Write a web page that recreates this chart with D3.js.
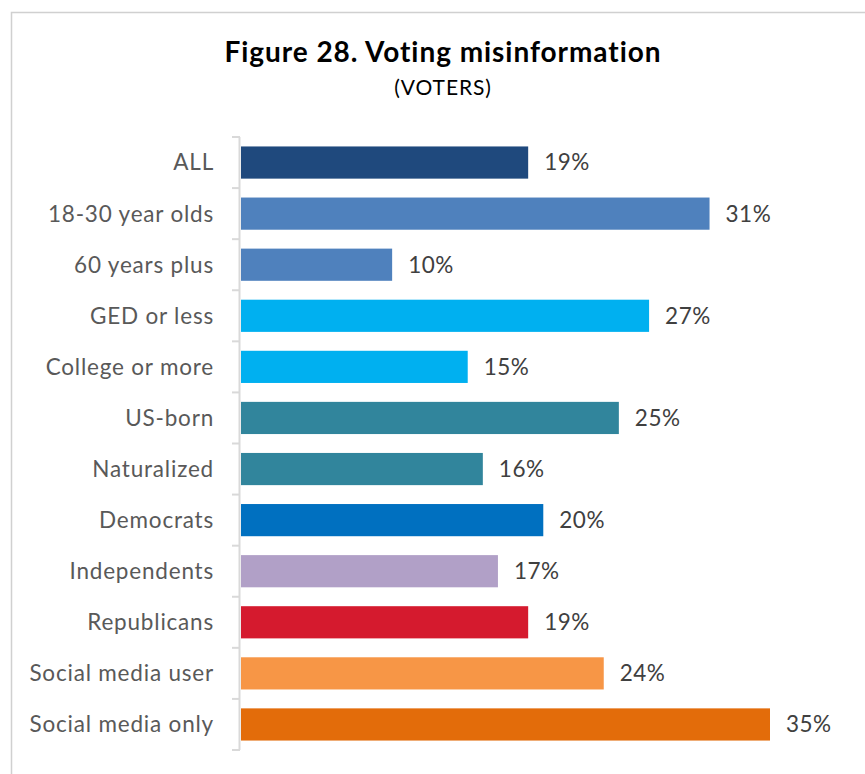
<!DOCTYPE html>
<html>
<head>
<meta charset="utf-8">
<script src="https://cdn.jsdelivr.net/npm/d3@7"></script>
<style>
  html, body { margin: 0; padding: 0; background: #fff; }
  svg { display: block; }
</style>
</head>
<body>
<svg id="chart" width="865" height="774"></svg>
<script>
// Survey groups, share reporting voting misinformation (%)
const categories = [
  "ALL", "18-30 year olds", "60 years plus", "GED or less", "College or more",
  "US-born", "Naturalized", "Democrats", "Independents", "Republicans",
  "Social media user", "Social media only"
];
const values = [19, 31, 10, 27, 15, 25, 16, 20, 17, 19, 24, 35];
const barColors = [
  "#1f497d", "#4f81bd", "#4f81bd", "#00b0f0", "#00b0f0",
  "#31859c", "#31859c", "#0070c0", "#b1a0c7", "#d51a2e",
  "#f79646", "#e36c0a"
];
const titleText = "Figure 28. Voting misinformation";
const subtitleText = "(VOTERS)";

const svg = d3.select("#chart");
const font = "Lato, 'Open Sans', sans-serif";

// outer frame
svg.append("rect")
  .attr("x", 11.5).attr("y", 12.5)
  .attr("width", 900).attr("height", 800)
  .attr("fill", "none").attr("stroke", "#d0d0d0").attr("stroke-width", 1.5);

// titles
svg.append("text")
  .attr("x", 443).attr("y", 62)
  .attr("text-anchor", "middle")
  .attr("font-family", font).attr("font-weight", 700)
  .attr("font-size", 28).attr("letter-spacing", 0.95)
  .attr("fill", "#000")
  .text(titleText);
svg.append("text")
  .attr("x", 443).attr("y", 95)
  .attr("text-anchor", "middle")
  .attr("font-family", font)
  .attr("font-size", 21).attr("letter-spacing", 0.9)
  .attr("fill", "#000")
  .text(subtitleText);

const x = d3.scaleLinear().domain([0, 35]).range([241, 770]);
const y = d3.scaleBand().domain(categories).range([137, 750]).paddingInner(0.37).paddingOuter(0.185);

// category axis with boundary ticks
const band = d3.scaleBand().domain(categories).range([137, 750]);
const axisG = svg.append("g");
axisG.append("line")
  .attr("x1", 239.5).attr("x2", 239.5)
  .attr("y1", 137).attr("y2", 750)
  .attr("stroke", "#d9d9d9").attr("stroke-width", 2);
const bounds = categories.map(c => band(c)).concat([band.range()[1]]);
axisG.selectAll("line.tick").data(bounds).join("line")
  .attr("class", "tick")
  .attr("x1", 232).attr("x2", 240)
  .attr("y1", d => d).attr("y2", d => d)
  .attr("stroke", "#d9d9d9").attr("stroke-width", 2);

// category labels
svg.selectAll("text.cat").data(categories).join("text")
  .attr("class", "cat")
  .attr("x", 214)
  .attr("y", d => band(d) + band.bandwidth() / 2)
  .attr("dy", "0.35em")
  .attr("text-anchor", "end")
  .attr("font-family", font).attr("font-size", 22.5)
  .attr("letter-spacing", 0.8)
  .attr("fill", "#595959")
  .text(d => d);

// bars
svg.selectAll("rect.bar").data(values).join("rect")
  .attr("class", "bar")
  .attr("x", x(0))
  .attr("y", (d, i) => y(categories[i]))
  .attr("width", d => x(d) - x(0))
  .attr("height", y.bandwidth())
  .attr("fill", (d, i) => barColors[i]);

// value labels
svg.selectAll("text.val").data(values).join("text")
  .attr("class", "val")
  .attr("x", d => x(d) + 16)
  .attr("y", (d, i) => band(categories[i]) + band.bandwidth() / 2)
  .attr("dy", "0.35em")
  .attr("font-family", font).attr("font-size", 22.5)
  .attr("letter-spacing", 0.5)
  .attr("fill", "#404040")
  .text(d => d + "%");
</script>
</body>
</html>
